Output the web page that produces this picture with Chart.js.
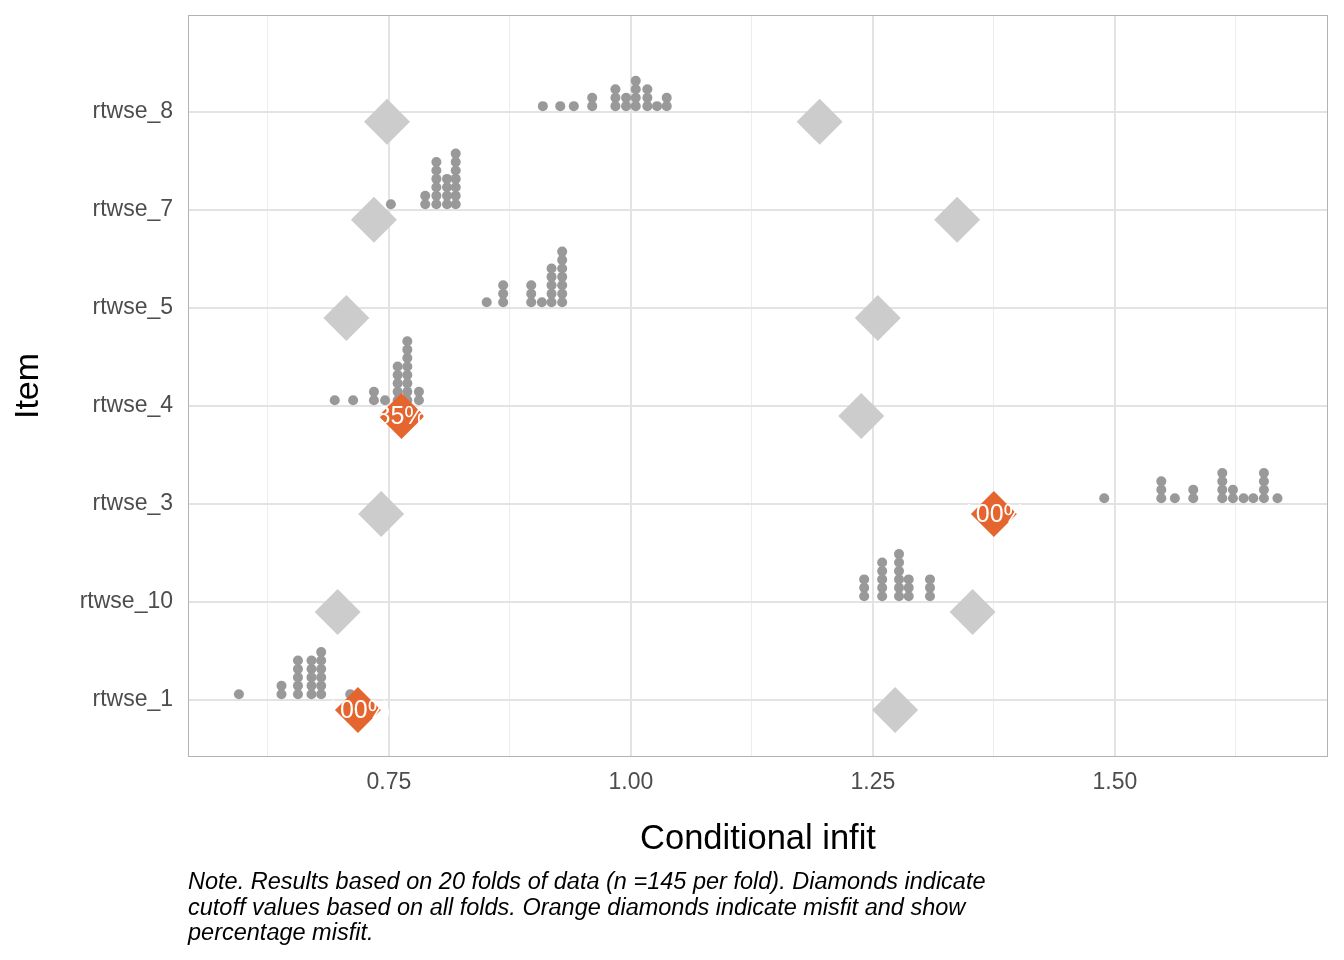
<!DOCTYPE html>
<html>
<head>
<meta charset="utf-8">
<script src="https://cdn.jsdelivr.net/npm/chart.js@4.4.1/dist/chart.umd.min.js"></script>
<style>
  html, body { margin: 0; padding: 0; background: #fff; }
  #wrap { width: 1344px; height: 960px; }
</style>
</head>
<body>
<div id="wrap"><canvas id="infit-chart" width="1344" height="960"></canvas></div>
<script>
// items as listed top to bottom on the plot
const items = ['rtwse_8', 'rtwse_7', 'rtwse_5', 'rtwse_4', 'rtwse_3', 'rtwse_10', 'rtwse_1'];

// dotplot bins (bin centre) and number of folds in each bin
const rtwse8Bins = [0.909, 0.927, 0.941, 0.960, 0.984, 0.995, 1.005, 1.017, 1.027, 1.037];
const rtwse8Counts = [1, 1, 1, 2, 3, 2, 4, 3, 1, 2];
const rtwse7Bins = [0.752, 0.7875, 0.799, 0.810, 0.819];
const rtwse7Counts = [1, 2, 6, 4, 7];
const rtwse5Bins = [0.851, 0.868, 0.897, 0.908, 0.918, 0.929];
const rtwse5Counts = [1, 3, 3, 1, 5, 7];
const rtwse4Bins = [0.694, 0.713, 0.7345, 0.746, 0.759, 0.769, 0.781];
const rtwse4Counts = [1, 1, 2, 1, 5, 8, 2];
const rtwse3Bins = [1.489, 1.548, 1.562, 1.581, 1.611, 1.622, 1.633, 1.643, 1.654, 1.668];
const rtwse3Counts = [1, 3, 1, 2, 4, 2, 1, 1, 4, 1];
const rtwse10Bins = [1.241, 1.2596, 1.277, 1.287, 1.309];
const rtwse10Counts = [3, 5, 6, 3, 3];
const rtwse1Bins = [0.595, 0.639, 0.656, 0.670, 0.680, 0.710];
const rtwse1Counts = [1, 2, 5, 5, 6, 1];

const itemBins = [rtwse8Bins, rtwse7Bins, rtwse5Bins, rtwse4Bins, rtwse3Bins, rtwse10Bins, rtwse1Bins];
const itemCounts = [rtwse8Counts, rtwse7Counts, rtwse5Counts, rtwse4Counts, rtwse3Counts, rtwse10Counts, rtwse1Counts];

// cutoff values (all folds), same order as items
const lowerCutoff = [0.748, 0.7345, 0.706, 0.763, 0.742, 0.697, 0.718];
const upperCutoff = [1.195, 1.337, 1.255, 1.238, 1.375, 1.353, 1.273];
// percentage misfit when the cutoff is flagged (null = not flagged)
const lowerMisfitPct = [null, null, null, 85, null, null, 100];
const upperMisfitPct = [null, null, null, null, 100, null, null];

// x axis
const xMajorTicks = [0.75, 1.00, 1.25, 1.50];
const xMinorTicks = [0.625, 0.875, 1.125, 1.375, 1.625];

const FONT = '"Liberation Sans", Arial, Helvetica, sans-serif';
const DOT_BASE = 0.06, DOT_STEP = 0.086, DIAMOND_NUDGE = -0.1;

const yPos = (i) => items.length - 1 - i;

const dotPoints = [];
items.forEach((name, i) => {
    itemBins[i].forEach((bx, b) => {
        for (let k = 0; k < itemCounts[i][b]; k++) {
            dotPoints.push({ x: bx, y: yPos(i) + DOT_BASE + k * DOT_STEP });
        }
    });
});

const greyDiamonds = [], orangeDiamonds = [];
items.forEach((name, i) => {
    [[lowerCutoff[i], lowerMisfitPct[i]], [upperCutoff[i], upperMisfitPct[i]]].forEach(([cx, pct]) => {
        const pt = { x: cx, y: yPos(i) + DIAMOND_NUDGE };
        if (pct === null) {
            greyDiamonds.push(pt);
        } else {
            pt.label = pct + '%';
            orangeDiamonds.push(pt);
        }
    });
});

const isMajor = (v) => xMajorTicks.some(t => Math.abs(t - v) < 1e-9);

// chart.js reserves room for edge labels, the panel here should not move
const noEdgePadding = (s) => {
    s.paddingTop = 0;
    s.paddingBottom = 0;
    s.paddingLeft = 0;
    s.paddingRight = 0;
};

const panelBorder = {
    id: 'panelBorder',
    afterDraw(chart) {
        const { ctx, chartArea: a } = chart;
        ctx.save();
        ctx.strokeStyle = '#B3B3B3';
        ctx.lineWidth = 1;
        ctx.strokeRect(a.left + 0.5, a.top + 0.5, a.right - a.left - 1, a.bottom - a.top - 1);
        ctx.restore();
    }
};

const misfitLabels = {
    id: 'misfitLabels',
    afterDatasetsDraw(chart) {
        const { ctx } = chart;
        const meta = chart.getDatasetMeta(0);
        ctx.save();
        ctx.fillStyle = '#FFFFFF';
        ctx.font = '25px ' + FONT;
        ctx.textAlign = 'center';
        ctx.textBaseline = 'middle';
        meta.data.forEach((el, j) => {
            ctx.fillText(orangeDiamonds[j].label, el.x, el.y + 1);
        });
        ctx.restore();
    }
};

const noteLines = [
    'Note. Results based on 20 folds of data (n =145 per fold). Diamonds indicate',
    'cutoff values based on all folds. Orange diamonds indicate misfit and show',
    'percentage misfit.'
];

const caption = {
    id: 'caption',
    afterDraw(chart) {
        const { ctx } = chart;
        ctx.save();
        ctx.fillStyle = '#000000';
        ctx.font = 'italic 23.5px ' + FONT;
        ctx.textAlign = 'left';
        ctx.textBaseline = 'alphabetic';
        noteLines.forEach((line, i) => ctx.fillText(line, 188, 889 + i * 25.5));
        ctx.restore();
    }
};

const ctx = document.getElementById('infit-chart').getContext('2d');

new Chart(ctx, {
    type: 'scatter',
    data: {
        datasets: [
            {
                label: 'Misfit cutoff',
                data: orangeDiamonds,
                pointStyle: 'rectRot',
                pointRadius: 23,
                borderWidth: 0,
                backgroundColor: '#E5652F',
                order: 0,
            },
            {
                label: 'Cutoff',
                data: greyDiamonds,
                pointStyle: 'rectRot',
                pointRadius: 23,
                borderWidth: 0,
                backgroundColor: '#CCCCCC',
                order: 1,
            },
            {
                label: 'Conditional infit',
                data: dotPoints,
                pointStyle: 'circle',
                pointRadius: 5,
                borderWidth: 0,
                backgroundColor: '#999999',
                order: 2,
            },
        ],
    },
    options: {
        responsive: false,
        animation: false,
        events: [],
        layout: { autoPadding: false, padding: { left: 0, top: 15, right: 16, bottom: 0 } },
        plugins: {
            legend: { display: false },
            tooltip: { enabled: false },
        },
        scales: {
            x: {
                type: 'linear',
                min: 0.5424,
                max: 1.7202,
                afterBuildTicks: (s) => {
                    s.ticks = xMinorTicks.concat(xMajorTicks).sort((a, b) => a - b).map(v => ({ value: v }));
                },
                afterFit: (s) => { s.height = 203; noEdgePadding(s); },
                ticks: {
                    callback: (v) => isMajor(v) ? v.toFixed(2) : '',
                    color: '#4D4D4D',
                    font: { size: 23, family: FONT },
                    padding: 12,
                    autoSkip: false,
                    maxRotation: 0,
                },
                grid: {
                    color: (c) => isMajor(c.tick.value) ? '#E3E3E3' : '#EDEDED',
                    lineWidth: (c) => isMajor(c.tick.value) ? 2 : 1,
                    drawTicks: false,
                },
                border: { display: false },
                title: {
                    display: true,
                    text: 'Conditional infit',
                    color: '#000000',
                    font: { size: 34.5, family: FONT },
                    padding: { top: 0, bottom: 100 },
                },
            },
            y: {
                type: 'linear',
                min: -0.58,
                max: 6.99,
                afterBuildTicks: (s) => {
                    s.ticks = items.map((_, i) => ({ value: i }));
                },
                afterFit: (s) => { s.width = 188; noEdgePadding(s); },
                ticks: {
                    callback: (v) => items[items.length - 1 - v],
                    color: '#4D4D4D',
                    font: { size: 23, family: FONT },
                    padding: 15,
                },
                grid: {
                    color: '#E3E3E3',
                    lineWidth: 2,
                    drawTicks: false,
                },
                border: { display: false },
                title: {
                    display: true,
                    text: 'Item',
                    color: '#000000',
                    font: { size: 34, family: FONT },
                    padding: { top: 8, bottom: 0 },
                },
            },
        },
    },
    plugins: [panelBorder, misfitLabels, caption],
});
</script>
</body>
</html>
